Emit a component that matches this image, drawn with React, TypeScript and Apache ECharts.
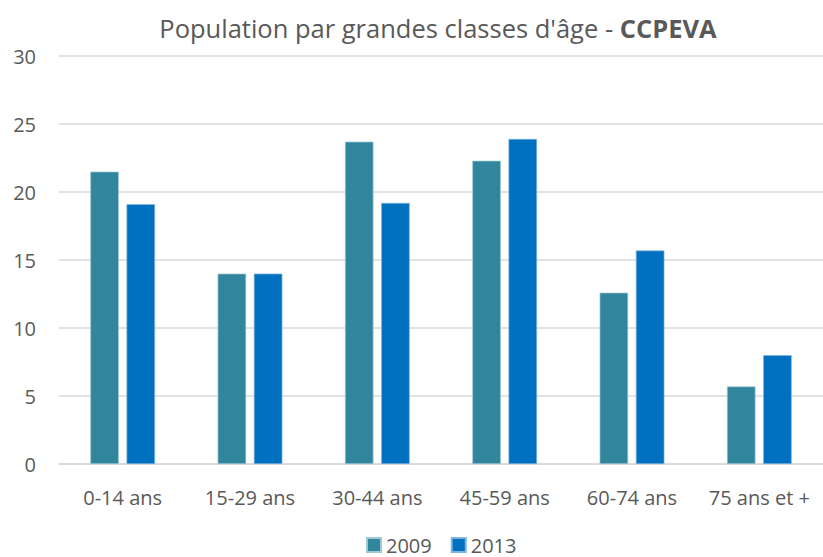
import React, { useEffect, useRef } from "react";
import * as echarts from "echarts";

const categories = ["0-14 ans", "15-29 ans", "30-44 ans", "45-59 ans", "60-74 ans", "75 ans et +"];
const values2009 = [21.5, 14.0, 23.7, 22.3, 12.6, 5.7];
const values2013 = [19.1, 14.0, 19.2, 23.9, 15.7, 8.0];
const seriesNames = ["2009", "2013"];
const colors = ["#31859C", "#0070C0"];

export default function App() {
  const ref = useRef<HTMLDivElement>(null);
  useEffect(() => {
    if (!ref.current) return;
    const chart = echarts.init(ref.current, undefined, { renderer: "svg" });
    const font = "'Open Sans', 'Noto Sans', sans-serif";
    chart.setOption({
      animation: false,
      textStyle: { fontFamily: font },
      title: {
        text: "{n|Population par grandes classes d'âge - }{b|CCPEVA}",
        left: 433,
        textAlign: "center",
        top: 10,
        textStyle: {
          fontWeight: "normal",
          rich: {
            n: { fontSize: 25.5, color: "#595959", fontWeight: "normal", fontFamily: font },
            b: { fontSize: 25.5, color: "#595959", fontWeight: "bold", fontFamily: font },
          },
        },
      },
      legend: {
        data: seriesNames,
        top: 535,
        left: 366,
        padding: 0,
        itemWidth: 14,
        itemHeight: 14,
        itemGap: 19,
        icon: "rect",
        textStyle: { fontSize: 20, color: "#595959", fontFamily: font },
      },
      grid: { left: 59, right: -4, top: 56, bottom: 93, containLabel: false },
      xAxis: {
        type: "category",
        data: categories,
        axisTick: { show: false },
        axisLine: { lineStyle: { color: "#d9d9d9", width: 1.5 } },
        axisLabel: { interval: 0, fontSize: 20, color: "#595959", margin: 23, fontFamily: font },
      },
      yAxis: {
        type: "value",
        min: 0,
        max: 30,
        interval: 5,
        axisLine: { show: false },
        axisTick: { show: false },
        splitLine: { lineStyle: { color: "#d9d9d9", width: 1.5 } },
        axisLabel: { fontSize: 20, color: "#595959", margin: 23, fontFamily: font },
      },
      series: [
        {
          name: seriesNames[0],
          type: "bar",
          data: values2009,
          barWidth: "22.4%",
          barGap: "27%",
          itemStyle: { color: colors[0], borderColor: "#9fc9d4", borderWidth: 0.7 },
        },
        {
          name: seriesNames[1],
          type: "bar",
          data: values2013,
          barWidth: "22.4%",
          barGap: "27%",
          itemStyle: { color: colors[1], borderColor: "#7fb3e0", borderWidth: 0.7 },
        },
      ],
    });
    return () => chart.dispose();
  }, []);
  return (
    <div
      ref={ref}
      style={{ position: "absolute", left: 0, top: 0, width: 823, height: 557, background: "#fff" }}
    />
  );
}
